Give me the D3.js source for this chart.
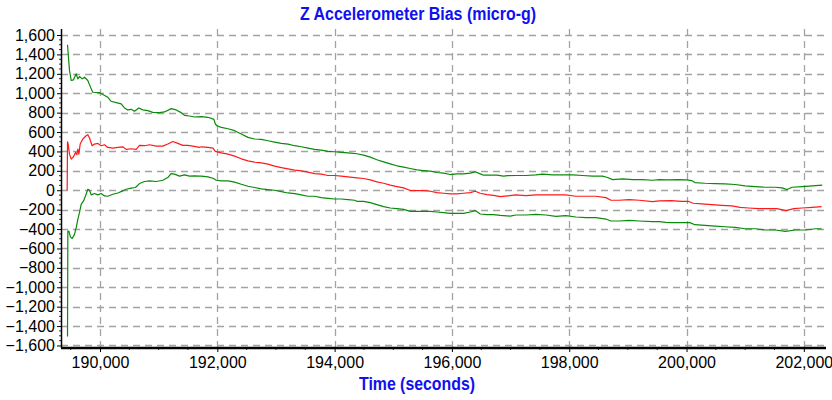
<!DOCTYPE html>
<html><head><meta charset="utf-8">
<script src="https://cdn.jsdelivr.net/npm/d3@7"></script>
<style>
body{margin:0;background:#fff;}
svg{display:block;}
</style></head>
<body>
<svg id="chart" width="832" height="400"></svg>
<script>
const title = "Z Accelerometer Bias (micro-g)";
const xTitle = "Time (seconds)";
const xTicks = [190000,192000,194000,196000,198000,200000,202000];
const yTicks = [-1600,-1400,-1200,-1000,-800,-600,-400,-200,0,200,400,600,800,1000,1200,1400,1600];

const upperTime = [189446,189480,189509,189548,189594,189622,189650,189697,189736,189792,189850,189877,189991,190048,190133,190190,190276,190361,190418,190474,190532,190588,190662,190730,190815,190900,191014,191100,191214,191299,191384,191441,191526,191611,191727,191841,191943,191966,192000,192068,192182,192295,192409,192523,192636,192750,192864,192977,193091,193205,193318,193432,193545,193659,193773,193886,194000,194114,194227,194380,194494,194608,194721,194835,194949,195062,195176,195290,195403,195517,195631,195744,195858,195972,196085,196199,196313,196398,196483,196540,196654,196767,196881,196950,197090,197261,197432,197545,197716,197886,198057,198227,198398,198568,198654,198739,198909,199080,199250,199421,199534,199686,199857,200000,200086,200143,200314,200486,200657,200829,201000,201171,201343,201514,201629,201714,201800,201971,202143,202314];
const upperVals = [1500,1234,1131,1138,1200,1148,1172,1148,1165,1131,1045,1010,1007,986,958,917,903,890,848,828,834,814,848,828,821,803,800,807,841,828,800,772,765,755,759,752,731,683,662,648,634,614,579,545,528,524,510,496,483,476,459,448,434,421,414,400,397,390,386,376,362,341,314,293,272,252,238,224,210,203,197,183,176,162,169,169,176,190,169,155,155,155,145,150,152,152,159,166,159,159,159,152,145,145,131,110,117,110,110,103,110,107,110,107,100,79,72,69,66,59,45,38,31,31,24,7,31,38,45,52];

const biasTime = [189440,189446,189457,189480,189509,189548,189582,189605,189622,189639,189662,189707,189764,189793,189821,189866,189906,189963,190020,190077,190134,190219,190304,190389,190446,190531,190617,190673,190759,190844,190958,191071,191156,191242,191327,191412,191497,191583,191696,191727,191841,191926,191966,192068,192182,192295,192409,192523,192636,192750,192864,192977,193091,193205,193318,193432,193545,193659,193773,193886,194000,194114,194227,194380,194494,194608,194721,194835,194949,195062,195176,195290,195403,195517,195631,195744,195858,195972,196085,196199,196313,196398,196483,196597,196710,196824,196950,197090,197261,197432,197602,197773,197943,198114,198284,198455,198625,198710,198852,199023,199193,199421,199534,199743,199914,200029,200114,200257,200429,200600,200771,200914,201057,201229,201400,201543,201697,201829,201971,202143,202303];
const biasVals = [0,500,476,372,321,345,390,366,424,372,476,528,562,572,538,459,476,483,459,469,441,434,441,448,421,428,421,462,459,469,455,455,476,503,483,462,462,455,441,448,441,434,400,386,372,352,324,303,290,283,269,248,234,221,207,200,186,172,166,152,152,145,138,128,121,107,86,72,52,38,24,-3,-3,-3,-10,-24,-31,-38,-38,-31,-24,-10,-31,-45,-52,-66,-58,-48,-55,-48,-48,-48,-48,-62,-62,-62,-76,-103,-103,-97,-103,-117,-110,-107,-114,-114,-134,-141,-148,-155,-162,-176,-183,-190,-190,-190,-210,-190,-183,-176,-169];

const lowerTime = [189446,189452,189469,189497,189526,189565,189594,189622,189650,189679,189719,189753,189793,189821,189849,189906,189963,190020,190077,190134,190219,190304,190389,190446,190531,190605,190673,190759,190844,190958,191071,191156,191213,191270,191355,191441,191526,191611,191696,191727,191841,191926,191983,192068,192182,192295,192409,192523,192636,192750,192864,192977,193091,193205,193318,193432,193545,193659,193773,193886,194000,194114,194227,194341,194380,194494,194608,194721,194835,194949,195062,195176,195290,195403,195517,195631,195744,195858,195972,196085,196199,196313,196398,196483,196597,196710,196824,196995,197090,197261,197432,197602,197773,197943,198114,198284,198455,198625,198710,198852,199023,199193,199421,199534,199648,199743,199914,200057,200143,200314,200486,200657,200829,201000,201171,201343,201514,201686,201857,202029,202200,202303];
const lowerVals = [-1507,-421,-421,-483,-497,-455,-386,-300,-231,-145,-110,-59,10,0,-48,-34,-48,-34,-59,-62,-41,-28,-7,10,21,28,69,90,97,90,103,131,172,166,145,159,145,148,145,145,138,124,103,97,97,83,62,41,28,14,7,0,-14,-28,-34,-48,-62,-62,-76,-83,-90,-90,-97,-103,-114,-114,-128,-148,-169,-183,-190,-197,-217,-217,-217,-217,-224,-231,-238,-238,-238,-224,-210,-245,-252,-252,-259,-266,-255,-255,-248,-255,-269,-262,-276,-283,-283,-297,-317,-317,-310,-317,-324,-324,-331,-334,-334,-334,-355,-362,-369,-376,-383,-397,-397,-410,-410,-424,-410,-410,-397,-397];

const series = [
  {name:"upper", t: upperTime, v: upperVals, color:"#0a8a0a"},
  {name:"bias", t: biasTime, v: biasVals, color:"#ff1a1a"},
  {name:"lower", t: lowerTime, v: lowerVals, color:"#0a8a0a"}
];

const svg = d3.select("#chart");
const pL = 61, pR = 826, pT = 29, pB = 348;
const x = d3.scaleLinear().domain([189335, 202378]).range([pL, pR]);
const y = d3.scaleLinear().domain([-1626, 1662]).range([pB, pT]);
const font = "'Liberation Sans', Arial, Helvetica, sans-serif";

// gridlines
const grid = svg.append("g").attr("stroke", "#a3a3a3").attr("stroke-width", 1.3).attr("stroke-dasharray", "7,5");
grid.selectAll("line.h").data(yTicks).join("line").attr("class","h")
  .attr("x1", pL).attr("x2", pR).attr("y1", d => Math.round(y(d))+0.5).attr("y2", d => Math.round(y(d))+0.5);
grid.selectAll("line.v").data(xTicks).join("line").attr("class","v")
  .attr("y1", pT).attr("y2", pB).attr("x1", d => Math.round(x(d))+0.5).attr("x2", d => Math.round(x(d))+0.5);

// lines
svg.append("clipPath").attr("id","clip").append("rect").attr("x",pL).attr("y",pT).attr("width",pR-pL).attr("height",pB-pT);
const lg = svg.append("g").attr("clip-path","url(#clip)");
series.forEach(s => {
  const pts = s.t.map((t,i)=>[t, s.v[i]]);
  lg.append("path").datum(pts)
    .attr("fill","none").attr("stroke", s.color).attr("stroke-width", 1.2)
    .attr("stroke-linejoin","round")
    .attr("d", d3.line().x(d=>x(d[0])).y(d=>y(d[1])));
});

// y axis
const yAxis = d3.axisLeft(y).tickValues(yTicks).tickFormat(d3.format(",")).tickSize(4).tickPadding(2);
const yg = svg.append("g").attr("transform", `translate(${pL},0)`).call(yAxis);
yg.select(".domain").remove();
yg.selectAll("text").attr("font-family", font).attr("font-size", 16).attr("fill","#000");
yg.selectAll(".tick line").attr("stroke","#000");
const yMinor = d3.range(-1600, 1650, 50).filter(v => v % 200 !== 0);
svg.append("g").selectAll("line").data(yMinor).join("line")
  .attr("x1", pL-2).attr("x2", pL).attr("y1", d=>y(d)).attr("y2", d=>y(d)).attr("stroke","#000").attr("stroke-width",0.8);
svg.append("line").attr("x1", pL+0.5).attr("x2", pL+0.5).attr("y1", pT).attr("y2", pB).attr("stroke","#000").attr("stroke-width",1.5);

// x axis
const xAxis = d3.axisBottom(x).tickValues(xTicks).tickFormat(d3.format(",")).tickSize(4).tickPadding(5);
const xg = svg.append("g").attr("transform", `translate(0,${pB})`).call(xAxis);
xg.select(".domain").remove();
xg.selectAll("text").attr("font-family", font).attr("font-size", 16).attr("fill","#000");
xg.selectAll(".tick line").attr("stroke","#000");
const xMinor = d3.range(189500, 202400, 500).filter(v => v % 2000 !== 0);
svg.append("g").selectAll("line").data(xMinor).join("line")
  .attr("y1", pB).attr("y2", pB+2).attr("x1", d=>x(d)).attr("x2", d=>x(d)).attr("stroke","#000").attr("stroke-width",0.8);
svg.append("line").attr("x1", pL).attr("x2", pR).attr("y1", pB).attr("y2", pB).attr("stroke","#000").attr("stroke-width",2.5);

// titles
svg.append("text").attr("x", 418).attr("y", 20).attr("text-anchor","middle")
  .attr("font-family", font).attr("font-weight","bold").attr("font-size", 17.5).attr("fill","#1010f0")
  .attr("textLength", 236).attr("lengthAdjust","spacingAndGlyphs").text(title);
svg.append("text").attr("x", 417).attr("y", 390).attr("text-anchor","middle")
  .attr("font-family", font).attr("font-weight","bold").attr("font-size", 17.5).attr("fill","#1010f0")
  .attr("textLength", 116).attr("lengthAdjust","spacingAndGlyphs").text(xTitle);
</script>
</body></html>
